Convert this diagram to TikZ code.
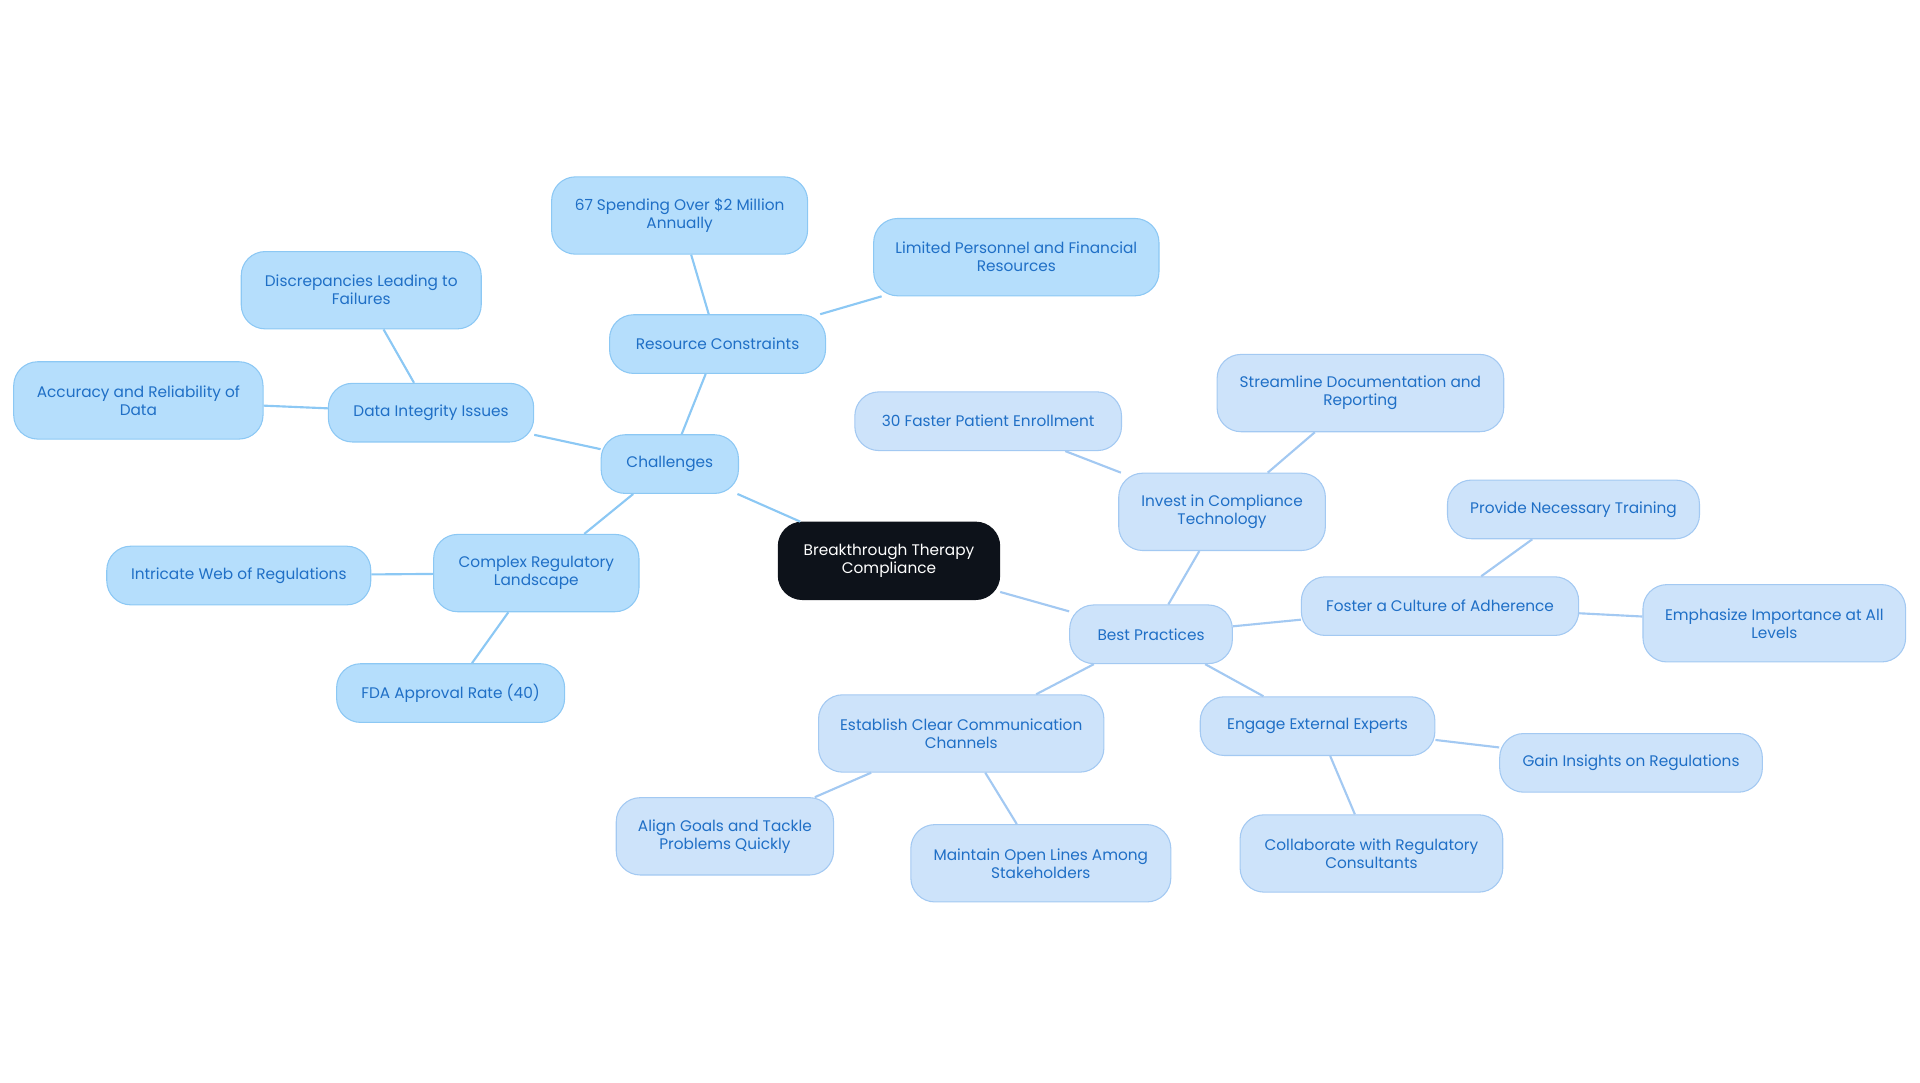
\documentclass[tikz,border=0pt]{standalone}
\usepackage{fontspec}
\setmainfont{Poppins}
\definecolor{cfillA}{HTML}{B5DEFC}
\definecolor{cdrawA}{HTML}{8CC8F4}
\definecolor{cfillB}{HTML}{CDE3FA}
\definecolor{cdrawB}{HTML}{A3C9F2}
\definecolor{ctext}{HTML}{1F6FC6}
\definecolor{cdark}{HTML}{0D121A}
\begin{document}
\begin{tikzpicture}[x=0.9184pt,y=-0.9184pt,
 base/.style={rounded corners=18pt,align=center,font=\fontsize{11.5}{13.5}\selectfont,text=ctext,inner sep=2pt,line width=0.8pt},
 na/.style={base,fill=cfillA,draw=cdrawA},
 nb/.style={base,fill=cfillB,draw=cdrawB},
 la/.style={draw=cdrawA,line width=1.6pt},
 lb/.style={draw=cdrawB,line width=1.6pt}]
\path[use as bounding box] (0,0) rectangle (1568,884);
\newcommand{\nd}[7]{\node[#1,minimum width=#5,minimum height=#6] (#2) at (#3,#4) {#7};}
\node[base,fill=cdark,draw=cdark,text=white,minimum width=166pt,minimum height=58pt] (c) at (726,458) {Breakthrough Therapy\\Compliance};
\nd{na}{ch}{547}{379}{103pt}{44pt}{Challenges}
\nd{na}{rc}{586}{281}{162pt}{44pt}{Resource Constraints}
\nd{na}{sp}{555}{176}{192pt}{58pt}{67 Spending Over \$2 Million\\Annually}
\nd{na}{lp}{830}{210}{214pt}{58pt}{Limited Personnel and Financial\\Resources}
\nd{na}{di}{352}{337}{154pt}{44pt}{Data Integrity Issues}
\nd{na}{dl}{295}{237}{180pt}{58pt}{Discrepancies Leading to\\Failures}
\nd{na}{ar}{113}{327}{187pt}{58pt}{Accuracy and Reliability of\\Data}
\nd{na}{cr}{438}{468}{154pt}{58pt}{Complex Regulatory\\Landscape}
\nd{na}{iw}{195}{470}{198pt}{44pt}{Intricate Web of Regulations}
\nd{na}{fd}{368}{566}{171pt}{44pt}{FDA Approval Rate (40)}
\nd{nb}{bp}{940}{518}{122pt}{44pt}{Best Practices}
\nd{nb}{ic}{998}{418}{155pt}{58pt}{Invest in Compliance\\Technology}
\nd{nb}{pe}{807}{344}{200pt}{44pt}{30 Faster Patient Enrollment}
\nd{nb}{sd}{1111}{321}{215pt}{58pt}{Streamline Documentation and\\Reporting}
\nd{nb}{fc}{1176}{495}{208pt}{44pt}{Foster a Culture of Adherence}
\nd{nb}{pt}{1285}{416}{189pt}{44pt}{Provide Necessary Training}
\nd{nb}{ei}{1449}{509}{197pt}{58pt}{Emphasize Importance at All\\Levels}
\nd{nb}{ee}{1076}{593}{176pt}{44pt}{Engage External Experts}
\nd{nb}{gi}{1332}{623}{197pt}{44pt}{Gain Insights on Regulations}
\nd{nb}{cw}{1120}{697}{197pt}{58pt}{Collaborate with Regulatory\\Consultants}
\nd{nb}{ec}{785}{599}{214pt}{58pt}{Establish Clear Communication\\Channels}
\nd{nb}{ag}{592}{683}{163pt}{58pt}{Align Goals and Tackle\\Problems Quickly}
\nd{nb}{mo}{850}{705}{195pt}{58pt}{Maintain Open Lines Among\\Stakeholders}
\begin{scope}[on background layer/.try]
\end{scope}
\begin{pgfonlayer}{main}\end{pgfonlayer}
\foreach \a/\b in {c/ch,ch/rc,rc/sp,rc/lp,ch/di,di/dl,di/ar,ch/cr,cr/iw,cr/fd}{\draw[la] (\a) -- (\b);}
\foreach \a/\b in {c/bp,bp/ic,ic/pe,ic/sd,bp/fc,fc/pt,fc/ei,bp/ee,ee/gi,ee/cw,bp/ec,ec/ag,ec/mo}{\draw[lb] (\a) -- (\b);}
\end{tikzpicture}
\end{document}
